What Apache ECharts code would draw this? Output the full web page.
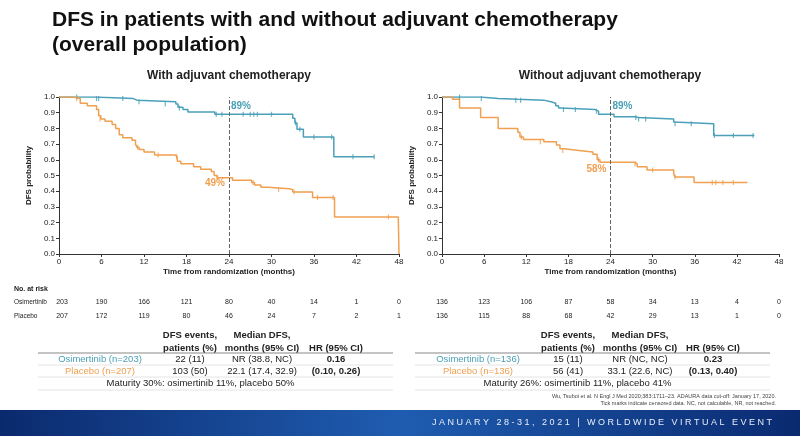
<!DOCTYPE html>
<html><head><meta charset="utf-8">
<script src="https://cdn.jsdelivr.net/npm/echarts@6/dist/echarts.min.js"></script>
<style>body{margin:0;background:#fff}#c{width:800px;height:436px}</style>
</head><body><div id="c"></div>
<script>
var teal = '#4aa0b8', orange = '#f0a050';
var xTicks = [0, 6, 12, 18, 24, 30, 36, 42, 48];

// [month, survival] step points
var leftOsi = [[0,1],[2.5,1],[5,0.99],[10.5,0.98],[11,0.97],[16.5,0.955],[16.8,0.935],[17.5,0.92],[18.2,0.905],[22,0.89],[33,0.865],[33.3,0.835],[33.6,0.795],[34.5,0.745],[38.8,0.62],[44.5,0.62]];
var leftPbo = [[0,1],[2,0.99],[3,0.96],[4,0.945],[5.3,0.92],[5.6,0.88],[5.9,0.86],[6.5,0.845],[7.5,0.825],[8,0.8],[8.5,0.76],[9,0.74],[10.3,0.725],[10.8,0.7],[11,0.68],[11.3,0.665],[12,0.65],[13.5,0.63],[16.4,0.62],[16.7,0.59],[17.2,0.575],[19,0.555],[20,0.54],[21.5,0.525],[21.9,0.5],[22.3,0.485],[24.5,0.47],[27.2,0.455],[27.6,0.44],[28.5,0.425],[29.5,0.415],[32.5,0.41],[33,0.395],[35.8,0.36],[38.9,0.235],[47.9,0.235],[48,0]];
var rightOsi = [[0,1],[5.5,0.99],[8,0.985],[10.8,0.98],[14.5,0.97],[15.5,0.96],[16.2,0.945],[16.6,0.93],[17,0.92],[21.8,0.91],[22.3,0.89],[24.5,0.875],[27.5,0.87],[27.9,0.86],[33,0.84],[33.2,0.83],[38.7,0.755],[44.5,0.755]];
var rightPbo = [[0,1],[1.5,0.985],[2.5,0.93],[5.5,0.87],[8,0.8],[10.8,0.775],[11.1,0.745],[11.6,0.73],[14.5,0.715],[16.3,0.695],[16.8,0.67],[17.4,0.66],[19.5,0.65],[21.5,0.635],[22.1,0.6],[22.5,0.585],[27.4,0.575],[27.8,0.555],[29.2,0.535],[33,0.51],[33.2,0.49],[35.9,0.455],[43.5,0.455]];

// censor ticks
var leftOsiC = [[2.5,1],[5.3,0.99],[5.6,0.99],[9,0.99],[11.3,0.97],[15,0.955],[17,0.93],[22.2,0.89],[23,0.89],[26,0.89],[27,0.89],[27.5,0.89],[28,0.89],[30,0.89],[33.4,0.835],[34,0.795],[36,0.745],[38.5,0.745],[41.5,0.62],[44.5,0.62]];
var leftPboC = [[2.5,0.99],[5.8,0.86],[11.1,0.68],[14,0.63],[16.6,0.62],[22.4,0.485],[27.4,0.455],[31,0.41],[33.2,0.395],[36.5,0.36],[38.7,0.36],[46.5,0.235]];
var rightOsiC = [[2.5,1],[5.6,0.99],[10.5,0.98],[11.2,0.98],[17.3,0.92],[19,0.92],[22,0.91],[27.6,0.87],[28,0.86],[29,0.86],[33.2,0.83],[35.5,0.83],[38.8,0.755],[41.5,0.755],[44.3,0.755]];
var rightPboC = [[11.3,0.745],[14,0.715],[17.2,0.66],[22.3,0.6],[27.5,0.575],[30,0.535],[33.2,0.49],[38.5,0.455],[39,0.455],[40,0.455],[41.5,0.455]];

var riskLeftOsi = [203, 190, 166, 121, 80, 40, 14, 1, 0];
var riskLeftPbo = [207, 172, 119, 80, 46, 24, 7, 2, 1];
var riskRightOsi = [136, 123, 106, 87, 58, 34, 13, 4, 0];
var riskRightPbo = [136, 115, 88, 68, 42, 29, 13, 1, 0];

var chart = echarts.init(document.getElementById('c'));
var grids = [
  {left: 59, top: 97, width: 340, height: 157},
  {left: 442, top: 97, width: 337, height: 157}
];
function xAx(i) {
  return {gridIndex: i, type: 'value', min: 0, max: 48, interval: 6,
    name: 'Time from randomization (months)', nameLocation: 'middle', nameGap: 14,
    nameTextStyle: {fontSize: 8, fontWeight: 'bold', color: '#222'},
    axisLine: {lineStyle: {color: '#333'}}, axisTick: {length: 3, lineStyle: {color: '#333'}},
    axisLabel: {fontSize: 8, margin: 4, color: '#222'}, splitLine: {show: false}};
}
function yAx(i) {
  return {gridIndex: i, type: 'value', min: 0, max: 1, interval: 0.1,
    name: 'DFS probability', nameLocation: 'middle', nameGap: 26, nameRotate: 90,
    nameTextStyle: {fontSize: 8, fontWeight: 'bold', color: '#222'},
    axisLine: {show: true, lineStyle: {color: '#333'}}, axisTick: {show: true, length: 3},
    axisLabel: {fontSize: 8, margin: 4, color: '#222', formatter: function (v) { return v.toFixed(1); }},
    splitLine: {show: false}};
}
function km(i, data, color, ref) {
  var s = {type: 'line', xAxisIndex: i, yAxisIndex: i, data: data, step: 'end',
    showSymbol: false, lineStyle: {color: color, width: 1.5}, z: 3};
  if (ref) {
    s.markLine = {silent: true, symbol: 'none', label: {show: false},
      lineStyle: {color: '#666', type: 'dashed', width: 1}, data: [{xAxis: 24}]};
  }
  return s;
}
function cens(i, data, color) {
  return {type: 'scatter', xAxisIndex: i, yAxisIndex: i, data: data,
    symbol: 'rect', symbolSize: [1.2, 5], itemStyle: {color: color}, z: 4};
}
function txt(x, y, t, o) {
  o = o || {};
  return {type: 'text', x: x, y: y, style: {text: t, fill: o.fill || '#222',
    fontFamily: 'Liberation Sans', fontSize: o.size || 9, fontWeight: o.weight || 'normal',
    align: o.align || 'center', verticalAlign: 'middle'}};
}

chart.setOption({
  animation: false,
  grid: grids,
  xAxis: [xAx(0), xAx(1)],
  yAxis: [yAx(0), yAx(1)],
  series: [
    km(0, leftOsi, teal, true), km(0, leftPbo, orange),
    km(1, rightOsi, teal, true), km(1, rightPbo, orange),
    cens(0, leftOsiC, teal), cens(0, leftPboC, orange),
    cens(1, rightOsiC, teal), cens(1, rightPboC, orange)
  ]
});

var g = [];
g.push(txt(52, 20, 'DFS in patients with and without adjuvant chemotherapy', {size: 21, weight: 'bold', align: 'left', fill: '#111'}));
g.push(txt(52, 45, '(overall population)', {size: 21, weight: 'bold', align: 'left', fill: '#111'}));
g.push(txt(229, 76, 'With adjuvant chemotherapy', {size: 12, weight: 'bold'}));
g.push(txt(610, 76, 'Without adjuvant chemotherapy', {size: 12, weight: 'bold'}));
function pt(i, x, y) { return chart.convertToPixel({gridIndex: i}, [x, y]); }
var p;
p = pt(0, 24, 0.89); g.push(txt(p[0] + 12, p[1] - 8, '89%', {fill: teal, weight: 'bold', size: 10}));
p = pt(0, 24, 0.49); g.push(txt(p[0] - 14, p[1] + 6, '49%', {fill: orange, weight: 'bold', size: 10}));
p = pt(1, 24, 0.89); g.push(txt(p[0] + 12, p[1] - 8, '89%', {fill: teal, weight: 'bold', size: 10}));
p = pt(1, 24, 0.58); g.push(txt(p[0] - 14, p[1] + 6, '58%', {fill: orange, weight: 'bold', size: 10}));

// numbers at risk
g.push(txt(14, 289, 'No. at risk', {align: 'left', size: 7, weight: 'bold'}));
g.push(txt(14, 302, 'Osimertinib', {align: 'left', size: 6.5}));
g.push(txt(14, 316, 'Placebo', {align: 'left', size: 6.5}));
var rows = [[0, riskLeftOsi, 302], [0, riskLeftPbo, 316], [1, riskRightOsi, 302], [1, riskRightPbo, 316]];
rows.forEach(function (r) {
  xTicks.forEach(function (t, k) {
    var q = pt(r[0], t, 0);
    var x = q[0] + (r[0] === 0 && k === 0 ? 3 : 0);
    g.push(txt(x, r[2], String(r[1][k]), {size: 7}));
  });
});

// tables
function table(x0, x1, cols, osi, pbo, hr, mat) {
  var s = 9.5;
  g.push(txt(cols[1], 335, 'DFS events,', {size: s, weight: 'bold'}));
  g.push(txt(cols[1], 348, 'patients (%)', {size: s, weight: 'bold'}));
  g.push(txt(cols[2], 335, 'Median DFS,', {size: s, weight: 'bold'}));
  g.push(txt(cols[2], 348, 'months (95% CI)', {size: s, weight: 'bold'}));
  g.push(txt(cols[3], 348, 'HR (95% CI)', {size: s, weight: 'bold'}));
  g.push(txt(cols[0], 359, osi[0], {size: s, fill: teal}));
  g.push(txt(cols[1], 359, osi[1], {size: s}));
  g.push(txt(cols[2], 359, osi[2], {size: s}));
  g.push(txt(cols[3], 359, hr[0], {size: s, weight: 'bold'}));
  g.push(txt(cols[0], 371, pbo[0], {size: s, fill: orange}));
  g.push(txt(cols[1], 371, pbo[1], {size: s}));
  g.push(txt(cols[2], 371, pbo[2], {size: s}));
  g.push(txt(cols[3], 371, hr[1], {size: s, weight: 'bold'}));
  g.push(txt((x0 + x1) / 2 - 15, 383, mat, {size: s}));
  [353, 365, 377, 390].forEach(function (y, k) {
    g.push({type: 'line', shape: {x1: x0, y1: y, x2: x1, y2: y},
      style: {stroke: k === 0 ? '#888' : '#ddd', lineWidth: k === 0 ? 1 : 0.8}});
  });
}
table(38, 393, [100, 190, 262, 336], ['Osimertinib (n=203)', '22 (11)', 'NR (38.8, NC)'],
  ['Placebo (n=207)', '103 (50)', '22.1 (17.4, 32.9)'], ['0.16', '(0.10, 0.26)'],
  'Maturity 30%: osimertinib 11%, placebo 50%');
table(415, 770, [478, 568, 640, 713], ['Osimertinib (n=136)', '15 (11)', 'NR (NC, NC)'],
  ['Placebo (n=136)', '56 (41)', '33.1 (22.6, NC)'], ['0.23', '(0.13, 0.40)'],
  'Maturity 26%: osimertinib 11%, placebo 41%');
g.push(txt(776, 396, 'Wu, Tsuboi et al. N Engl J Med 2020;383:1711\u201323. ADAURA data cut-off: January 17, 2020.', {size: 5.5, align: 'right', fill: '#444'}));
g.push(txt(776, 403, 'Tick marks indicate censored data. NC, not calculable, NR, not reached.', {size: 5.5, align: 'right', fill: '#444'}));

// banner
g.push({type: 'rect', shape: {x: 0, y: 410, width: 800, height: 26}, z: -1,
  style: {fill: new echarts.graphic.LinearGradient(0, 0, 1, 0, [
    {offset: 0, color: '#0b2a6e'}, {offset: 0.5, color: '#1f5cb0'}, {offset: 1, color: '#0a2a70'}])}});
g.push(txt(772, 423, 'J A N U A R Y   2 8 - 3 1 ,   2 0 2 1   |   W O R L D W I D E   V I R T U A L   E V E N T', {size: 9, align: 'right', fill: '#e8eefa'}));

chart.setOption({graphic: {elements: g}});
</script></body></html>
